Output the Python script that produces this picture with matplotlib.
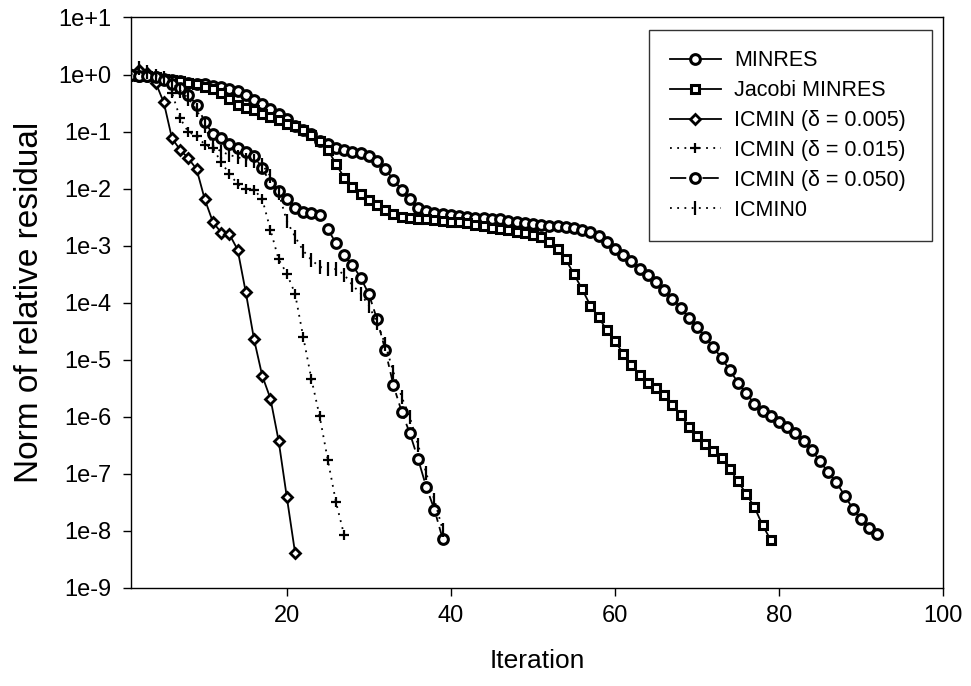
import matplotlib
matplotlib.use("Agg")
import matplotlib.pyplot as plt
from matplotlib.ticker import FixedLocator, FuncFormatter, NullLocator
import numpy as np

plt.rcParams['font.family'] = ['Liberation Sans', 'DejaVu Sans']

# log10 of the relative residual norm, one entry per iteration (starting at 1)
minres_log10 = [
    0.00, -0.02, -0.03, -0.05, -0.07, -0.10, -0.12, -0.14, -0.16, -0.17,
    -0.20, -0.22, -0.25, -0.29, -0.36, -0.45, -0.52, -0.61, -0.69, -0.78,
    -0.91, -0.97, -1.05, -1.16, -1.22, -1.28, -1.32, -1.35, -1.38, -1.43,
    -1.51, -1.66, -1.84, -2.02, -2.19, -2.34, -2.40, -2.43, -2.44, -2.46,
    -2.48, -2.49, -2.51, -2.52, -2.53, -2.54, -2.56, -2.58, -2.60, -2.62,
    -2.63, -2.65, -2.66, -2.68, -2.69, -2.72, -2.76, -2.83, -2.93, -3.05,
    -3.17, -3.27, -3.40, -3.52, -3.64, -3.77, -3.93, -4.09, -4.26, -4.42,
    -4.60, -4.78, -4.97, -5.18, -5.40, -5.59, -5.77, -5.90, -5.99, -6.09,
    -6.18, -6.29, -6.42, -6.58, -6.78, -6.97, -7.15, -7.38, -7.61, -7.79,
    -7.95, -8.06,
]
jacobi_log10 = [
    0.00, -0.02, -0.03, -0.05, -0.07, -0.10, -0.12, -0.14, -0.17, -0.21,
    -0.26, -0.33, -0.42, -0.53, -0.59, -0.63, -0.69, -0.75, -0.80, -0.86,
    -0.91, -0.97, -1.06, -1.16, -1.32, -1.57, -1.81, -1.97, -2.09, -2.20,
    -2.29, -2.38, -2.45, -2.49, -2.52, -2.53, -2.54, -2.55, -2.56, -2.58,
    -2.59, -2.61, -2.63, -2.66, -2.69, -2.70, -2.73, -2.76, -2.78, -2.81,
    -2.85, -2.93, -3.05, -3.24, -3.50, -3.76, -4.05, -4.25, -4.48, -4.67,
    -4.89, -5.09, -5.27, -5.40, -5.50, -5.62, -5.79, -5.97, -6.17, -6.34,
    -6.47, -6.60, -6.72, -6.91, -7.13, -7.35, -7.58, -7.90, -8.16,
]
icmin_005_log10 = [
    0.00, 0.08, 0.02, -0.14, -0.49, -1.12, -1.32, -1.47, -1.66, -2.19,
    -2.59, -2.77, -2.80, -3.07, -3.82, -4.64, -5.28, -5.68, -6.42, -7.41,
    -8.38,
]
icmin_015_log10 = [
    0.00, -0.01, -0.02, -0.04, -0.10, -0.32, -0.77, -1.01, -1.07, -1.23,
    -1.29, -1.54, -1.74, -1.92, -2.01, -2.02, -2.18, -2.72, -3.24, -3.49,
    -3.84, -4.60, -5.34, -5.99, -6.76, -7.50, -8.08,
]
icmin_050_log10 = [
    0.00, -0.02, -0.03, -0.05, -0.10, -0.17, -0.24, -0.36, -0.53, -0.83,
    -1.05, -1.12, -1.21, -1.28, -1.35, -1.43, -1.64, -1.90, -2.04, -2.18,
    -2.34, -2.41, -2.42, -2.46, -2.71, -2.96, -3.17, -3.34, -3.56, -3.85,
    -4.29, -4.83, -5.45, -5.91, -6.29, -6.74, -7.23, -7.63, -8.14,
]
icmin0_log10 = [
    0.00, 0.12, 0.05, -0.02, -0.06, -0.15, -0.28, -0.42, -0.62, -0.90,
    -1.25, -1.35, -1.41, -1.45, -1.49, -1.51, -1.58, -1.78, -2.07, -2.57,
    -2.84, -3.09, -3.25, -3.37, -3.41, -3.41, -3.51, -3.69, -3.84, -4.05,
    -4.35, -4.73, -5.22, -5.65, -6.01, -6.49, -6.99, -7.46, -7.98,
]

labels = ["MINRES", "Jacobi MINRES", "ICMIN (δ = 0.005)",
          "ICMIN (δ = 0.015)", "ICMIN (δ = 0.050)", "ICMIN0"]
x_ticks = [20, 40, 60, 80, 100]
y_exponents = list(range(1, -10, -1))

series = [minres_log10, jacobi_log10, icmin_005_log10,
          icmin_015_log10, icmin_050_log10, icmin0_log10]
styles = [
    dict(ls="-", marker="o", ms=7.0, mew=2.2),
    dict(ls="-", marker="s", ms=6.0, mew=2.2),
    dict(ls="-", marker="D", ms=5.5, mew=2.0),
    dict(ls=(0, (1, 3)), marker="+", ms=7.0, mew=1.6),
    dict(ls=(0, (9, 3, 3, 3)), marker="o", ms=7.0, mew=2.2),
    dict(ls=(0, (1, 3)), marker="|", ms=10, mew=1.6),
]

fig = plt.figure(figsize=(9.71, 6.86), dpi=100)
ax = fig.add_axes([0.1349, 0.1429, 0.8363, 0.8316])

for vals, lab, st in zip(series, labels, styles):
    it = np.arange(1, len(vals) + 1)
    ax.plot(it, 10.0 ** np.array(vals), color="black", lw=1.3,
            mfc="white", mec="black", label=lab, **st)

ax.set_yscale("log")
ax.set_xlim(1, 100)
ax.set_ylim(1e-9, 1e1)
ax.xaxis.set_major_locator(FixedLocator(x_ticks))
ax.xaxis.set_minor_locator(NullLocator())
ax.yaxis.set_major_locator(FixedLocator([10.0 ** e for e in y_exponents]))
ax.yaxis.set_minor_locator(NullLocator())
ax.yaxis.set_major_formatter(FuncFormatter(
    lambda v, pos: "1e{:+d}".format(int(round(np.log10(v))))))
ax.tick_params(direction="out", length=6, width=1, labelsize=17)
ax.tick_params(axis="y", pad=8)
ax.tick_params(axis="x", pad=6)
for sp in ax.spines.values():
    sp.set_linewidth(1.0)

ax.set_xlabel("Iteration", fontsize=19, labelpad=16)
ax.set_ylabel("Norm of relative residual", fontsize=24, labelpad=10)

leg = ax.legend(loc="upper left", bbox_to_anchor=(0.638, 0.610, 0.3485, 0.368),
                mode="expand", borderaxespad=0, fontsize=15.5, frameon=True,
                fancybox=False, edgecolor="black", handlelength=2.4,
                borderpad=0.95, labelspacing=0.41, handletextpad=0.6)
leg.get_frame().set_linewidth(1.0)

fig.savefig("out.png", dpi=100)
